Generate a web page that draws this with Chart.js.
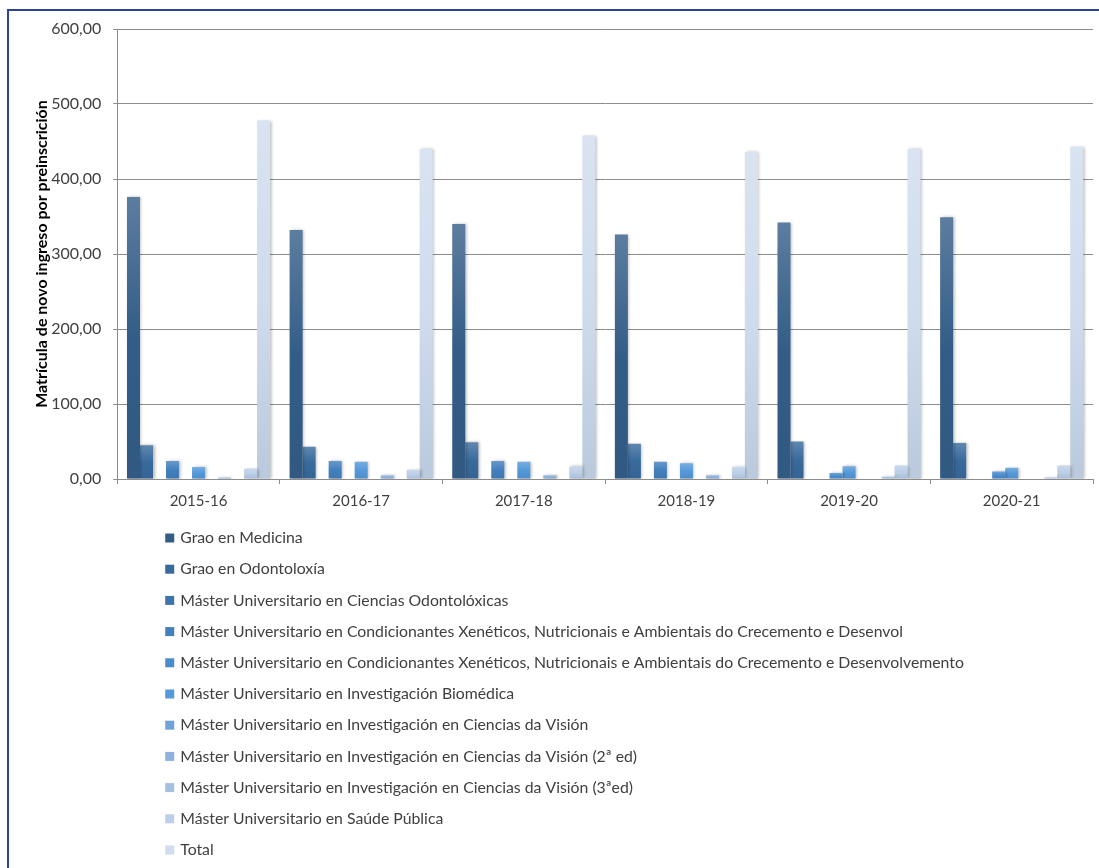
<!DOCTYPE html>
<html><head><meta charset="utf-8">
<script src="https://cdn.jsdelivr.net/npm/chart.js@4/dist/chart.umd.min.js"></script>
<style>html,body{margin:0;padding:0;background:#fff}canvas{display:block}</style>
</head><body>
<canvas id="c" width="1099" height="868"></canvas>
<script>
const categories = ['2015-16','2016-17','2017-18','2018-19','2019-20','2020-21'];
const seriesNames = [
  'Grao en Medicina',
  'Grao en Odontoloxía',
  'Máster Universitario en Ciencias Odontolóxicas',
  'Máster Universitario en Condicionantes Xenéticos, Nutricionais e Ambientais do Crecemento e Desenvol',
  'Máster Universitario en Condicionantes Xenéticos, Nutricionais e Ambientais do Crecemento e Desenvolvemento',
  'Máster Universitario en Investigación Biomédica',
  'Máster Universitario en Investigación en Ciencias da Visión',
  'Máster Universitario en Investigación en Ciencias da Visión (2ª ed)',
  'Máster Universitario en Investigación en Ciencias da Visión (3ªed)',
  'Máster Universitario en Saúde Pública',
  'Total'
];
const medicina       = [376, 332, 340, 326, 342, 349];
const odontoloxia    = [45, 43, 49, 47, 50, 48];
const cOdontoloxicas = [null, null, null, null, null, null];
const condDesenvol   = [24, 24, 24, 23, null, null];
const condDesenvolv  = [null, null, null, null, 8, 10];
const biomedica      = [16, 23, 23, 21, 17, 15];
const vision         = [null, null, null, null, null, null];
const vision2        = [2, 5, 5, 5, null, null];
const vision3        = [null, null, null, null, 3, 2];
const saudePublica   = [14, 12, 17, 16, 18, 18];
const total          = [478, 440, 458, 436, 440, 443];
const seriesValues = [medicina, odontoloxia, cOdontoloxicas, condDesenvol, condDesenvolv, biomedica, vision, vision2, vision3, saudePublica, total];
const yTicks = [0, 100, 200, 300, 400, 500, 600];

const baseColors = ['#335d87','#386a9c','#3e74ab','#4280bd','#4a8ccc','#5499d9','#6fa3d9','#8eb1dc','#a4bfe0','#bccfe7','#cfdcee'];

function hex2rgb(h){h=h.replace('#','');return [parseInt(h.substr(0,2),16),parseInt(h.substr(2,2),16),parseInt(h.substr(4,2),16)];}
function mix(a,b,t){const A=hex2rgb(a),B=hex2rgb(b);return 'rgb('+A.map((v,i)=>Math.round(v*(1-t)+B[i]*t)).join(',')+')';}

function gradFor(base){
  return function(ctx){
    const chart = ctx.chart;
    const v = ctx.raw;
    if (!chart.chartArea || v == null || !chart.scales.y) return base;
    const ys = chart.scales.y;
    const top = ys.getPixelForValue(v), bot = ys.getPixelForValue(0);
    if (!(bot > top)) return base;
    const g = chart.ctx.createLinearGradient(0, top, 0, bot);
    g.addColorStop(0, mix(base, '#ffffff', 0.2));
    g.addColorStop(0.5, base);
    g.addColorStop(1, mix(base, '#1f3c5a', 0.12));
    return g;
  };
}

const datasets = seriesNames.map((name, i) => ({
  label: name,
  data: seriesValues[i],
  legendColor: baseColors[i],
  backgroundColor: gradFor(baseColors[i]),
  borderWidth: 0,
  categoryPercentage: 0.88,
  barPercentage: 1.0
}));

const framePlugin = {
  id: 'frame',
  beforeDraw(chart){
    const c = chart.ctx;
    c.save();
    c.fillStyle = '#ffffff';
    c.fillRect(0, 0, chart.width, chart.height);
    c.strokeStyle = '#2b4590';
    c.lineWidth = 2;
    c.beginPath();
    c.moveTo(8, chart.height);
    c.lineTo(8, 10);
    c.lineTo(chart.width, 10);
    c.stroke();
    c.restore();
  }
};

const shadowPlugin = {
  id: 'shadow',
  beforeDatasetsDraw(chart){
    const c = chart.ctx;
    c.save();
    c.shadowColor = 'rgba(0,0,0,0.28)';
    c.shadowBlur = 3;
    c.shadowOffsetX = 1.5;
    c.shadowOffsetY = 0;
  },
  afterDatasetsDraw(chart){ chart.ctx.restore(); }
};

const vLegend = {
  id: 'vLegend',
  afterDraw(chart){
    const c = chart.ctx;
    const x0 = chart.chartArea.left + 48;
    const y0 = chart.chartArea.bottom + 59;
    c.save();
    c.font = '15.8px Lato';
    c.textBaseline = 'middle';
    c.textAlign = 'left';
    chart.data.datasets.forEach((ds, i) => {
      const y = y0 + i * 31.2;
      c.fillStyle = ds.legendColor;
      c.fillRect(x0, y - 4.5, 9, 9);
      c.fillStyle = '#404040';
      c.fillText(ds.label, x0 + 15, y);
    });
    c.restore();
  }
};

new Chart(document.getElementById('c'), {
  type: 'bar',
  data: { labels: categories, datasets },
  plugins: [framePlugin, shadowPlugin, vLegend],
  options: {
    responsive: false,
    animation: false,
    layout: { padding: { left: 20, top: 29, right: 6, bottom: 358 } },
    plugins: { legend: { display: false }, tooltip: { enabled: false } },
    scales: {
      x: {
        afterFit(scale){ scale.height -= scale.options.ticks.padding; },
        grid: { display: true, offset: true, drawOnChartArea: false, drawTicks: true, tickLength: 5, color: '#8c8c8c' },
        border: { display: true, color: '#8c8c8c' },
        ticks: { font: { family: 'Lato', size: 15 }, color: '#404040', padding: 8, maxRotation: 0 }
      },
      y: {
        min: 0, max: 600,
        afterBuildTicks(scale){ scale.ticks = yTicks.map(v => ({ value: v })); },
        afterFit(scale){ scale.width -= scale.options.ticks.padding; },
        grid: { color: '#8c8c8c', tickLength: 4, lineWidth: 1 },
        border: { display: true, color: '#8c8c8c' },
        ticks: {
          font: { family: 'Lato', size: 16 }, color: '#404040', padding: 12,
          callback: v => v.toFixed(2).replace('.', ',')
        },
        title: {
          display: true,
          text: 'Matrícula de novo ingreso por preinscrición',
          font: { family: 'Lato', size: 16, weight: 'bold' },
          color: '#000000',
          padding: { top: 12, bottom: 0 }
        }
      }
    }
  }
});
</script>
</body></html>
